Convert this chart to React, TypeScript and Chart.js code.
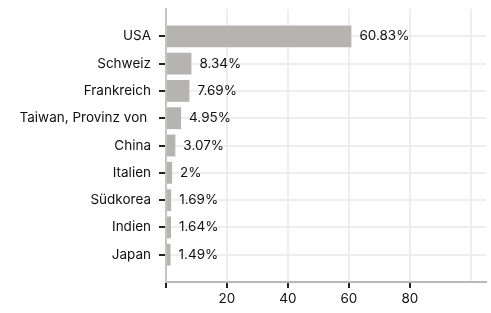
import React, { useEffect, useRef } from "react";
import { Chart, registerables } from "chart.js";

Chart.register(...registerables);

const categories = [
  "USA",
  "Schweiz",
  "Frankreich",
  "Taiwan, Provinz von ",
  "China",
  "Italien",
  "Südkorea",
  "Indien",
  "Japan",
];
const values = [60.83, 8.34, 7.69, 4.95, 3.07, 2, 1.69, 1.64, 1.49];
const xTicks = [0, 20, 40, 60, 80, 100];
const xTickLabels = ["", "20", "40", "60", "80", ""];

const FONT = "Inter, 'DejaVu Sans', sans-serif";
const FS = 13.5;

const valueLabels = {
  id: "valueLabels",
  afterDatasetsDraw(chart: any) {
    const ctx = chart.ctx;
    const meta = chart.getDatasetMeta(0);
    ctx.save();
    ctx.font = `${FS}px ${FONT}`;
    ctx.fillStyle = "#111";
    ctx.textBaseline = "middle";
    ctx.textAlign = "left";
    meta.data.forEach((bar: any, i: number) => {
      ctx.fillText(String(values[i]) + "%", bar.x + 8, bar.y);
    });
    ctx.restore();
  },
};

export default function App() {
  const ref = useRef<HTMLCanvasElement | null>(null);
  useEffect(() => {
    if (!ref.current) return;
    const chart = new Chart(ref.current, {
      type: "bar",
      data: {
        datasets: [
          {
            data: values.map((v, i) => ({ x: v, y: i })),
            backgroundColor: "#b5b4b0",
            categoryPercentage: 1,
            barPercentage: 0.8,
          },
        ],
      },
      options: {
        indexAxis: "y",
        animation: false,
        responsive: false,
        layout: { padding: { top: 9, right: 5, left: 0, bottom: 0 } },
        plugins: { legend: { display: false }, tooltip: { enabled: false } },
        scales: {
          x: {
            type: "linear",
            min: 0,
            max: 105,
            offset: false,
            afterBuildTicks: (s: any) => {
              s.ticks = xTicks.map((v) => ({ value: v }));
            },
            afterFit: (s: any) => {
              s.height = 31;
            },
            border: { display: true, color: "#b8b8b4", width: 2 },
            grid: {
              offset: false,
              color: "#eeeeee",
              lineWidth: 2,
              tickLength: 6,
              tickColor: (c: any) => (c.tick && c.tick.value === 100 ? "rgba(0,0,0,0)" : "#222"),
              tickWidth: 2,
            },
            ticks: {
              font: { family: FONT, size: FS },
              color: "#111",
              padding: 3,
              maxRotation: 0,
              callback: (v: any, i: number) => xTickLabels[i],
            },
          },
          y: {
            type: "linear",
            min: -1,
            max: 9,
            reverse: true,
            offset: false,
            afterBuildTicks: (s: any) => {
              s.ticks = categories.map((_, i) => ({ value: i }));
            },
            afterFit: (s: any) => {
              s.width = 166;
              s.paddingTop = 0;
              s.paddingBottom = 0;
            },
            border: { display: true, color: "#c4c4c0", width: 2 },
            grid: {
              offset: false,
              color: "#eeeeee",
              lineWidth: 2,
              tickLength: 7,
              tickColor: "#222",
              tickWidth: 2,
            },
            ticks: {
              font: { family: FONT, size: FS },
              color: "#111",
              padding: 8,
              autoSkip: false,
              callback: (v: any) => categories[v as number],
            },
          },
        },
      },
      plugins: [valueLabels],
    } as any);
    return () => chart.destroy();
  }, []);
  return (
    <div style={{ position: "fixed", left: 0, top: 0, width: 491, height: 313, background: "#fff" }}>
      <canvas ref={ref} width={491} height={313} style={{ width: 491, height: 313 }} />
    </div>
  );
}
